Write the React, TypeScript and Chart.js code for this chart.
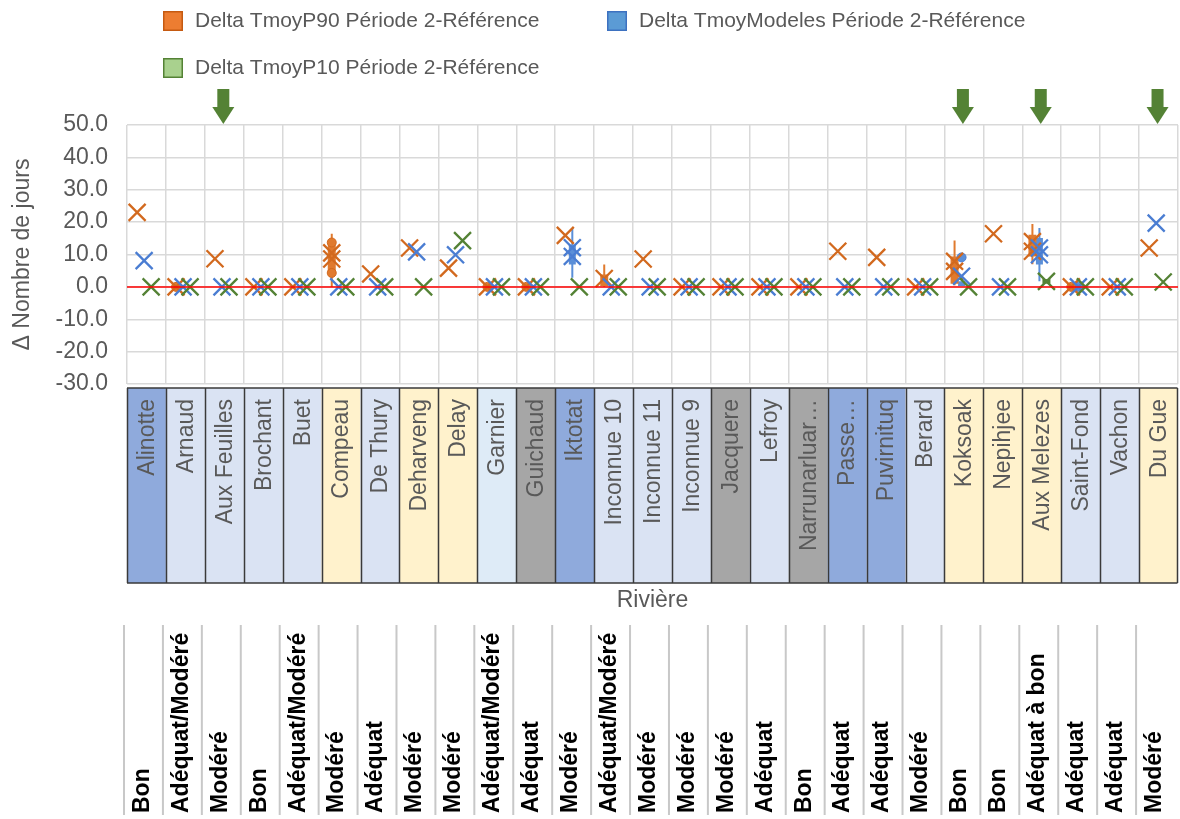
import { useEffect, useRef } from 'react';
import { Chart, registerables } from 'chart.js';

Chart.register(...registerables);

const FONT = "'Liberation Sans', Arial, sans-serif";
const TXT = '#595959';

// ---------- data ----------
const rivers = ['Alinotte', 'Arnaud', 'Aux Feuilles', 'Brochant', 'Buet', 'Compeau', 'De Thury', 'Deharveng', 'Delay', 'Garnier', 'Guichaud', 'Iktotat', 'Inconnue 10', 'Inconnue 11', 'Inconnue 9', 'Jacquere', 'Lefroy', 'Narrunarluar…', 'Passe…', 'Puvirnituq', 'Berard', 'Koksoak', 'Nepihjee', 'Aux Melezes', 'Saint-Fond', 'Vachon', 'Du Gue'];
const riverGroups = ['dark', 'light', 'light', 'light', 'light', 'yellow', 'light', 'yellow', 'yellow', 'pale', 'gray', 'dark', 'light', 'light', 'light', 'gray', 'light', 'gray', 'dark', 'dark', 'light', 'yellow', 'yellow', 'yellow', 'light', 'light', 'yellow'];
const status = ['Bon', 'Adéquat/Modéré', 'Modéré', 'Bon', 'Adéquat/Modéré', 'Modéré', 'Adéquat', 'Modéré', 'Modéré', 'Adéquat/Modéré', 'Adéquat', 'Modéré', 'Adéquat/Modéré', 'Modéré', 'Modéré', 'Modéré', 'Adéquat', 'Bon', 'Adéquat', 'Adéquat', 'Modéré', 'Bon', 'Bon', 'Adéquat à bon', 'Adéquat', 'Adéquat', 'Modéré'];
const arrowRivers = [2, 21, 23, 26];

const seriesNames = ['Delta TmoyP90 Période 2-Référence', 'Delta TmoyModeles Période 2-Référence', 'Delta TmoyP10 Période 2-Référence'];

const p90 = [23, 0, 8.7, 0, 0, 8.6, 4, 12, 5.8, 0, 0, 15.9, 2.6, 8.6, 0, 0, 0, 0, 11, 9.1, 0, 7.9, 16.4, 14, 0, 0, 12];
const mod = [8.1, 0, 0, 0, 0, 0, 0, 10.8, 9.9, 0, 0, 12.1, 0, 0, 0, 0, 0, 0, 0, 0, 0, 3.3, 0, 12, 0, 0, 19.7];
const p10 = [0, 0, 0, 0, 0, 0, 0, 0, 14.3, 0, 0, 0, 0, 0, 0, 0, 0, 0, 0, 0, 0, 0, 0, 1.7, 0, 0, 1.5];

const p90ExtraCats = [5, 21, 23];
const p90ExtraVals = [10.5, 4.8, 11];
const modExtraCats = [11, 23];
const modExtraVals = [9.4, 9.9];

const p90WhiskCats = [5, 12, 21, 23];
const p90WhiskLo = [0, 0, 0.5, 7];
const p90WhiskHi = [16.4, 6.9, 14.3, 19.4];
const p90BoxCats = [5, 12, 21, 23];
const p90BoxLo = [4.3, 0.3, 1.0, 9.4];
const p90BoxHi = [13.7, 3.8, 9.4, 16.1];

const modWhiskCats = [11, 23];
const modWhiskLo = [2.8, 1.7];
const modWhiskHi = [18.2, 18.2];
const modBoxCats = [11, 21, 23];
const modBoxLo = [6.9, 0.3, 6.9];
const modBoxHi = [13.0, 1.7, 15.1];

const p10BoxCats = [23];
const p10BoxLo = [1.0];
const p10BoxHi = [2.4];

const p90DotCats = [1, 5, 5, 9, 10, 24];
const p90DotVals = [0, 13.7, 4.3, 0, 0, 0];
const modDotCats = [21, 24];
const modDotVals = [9.1, 0];

const yTicks = [-30, -20, -10, 0, 10, 20, 30, 40, 50];

// ---------- styles ----------
const OFF = [-0.24, -0.06, 0.12];
const markerColors = ['#d2691e', '#4a7dd2', '#548235'];
const boxColors = ['#e07a2e', '#5b8fd8', '#548235'];
const legendFill = ['#ed7d31', '#5b9bd5', '#a9d18e'];
const legendBorder = ['#c55a11', '#3d71c0', '#548235'];
const cellColors: Record<string, string> = {
  dark: '#8faadc',
  light: '#dae3f3',
  pale: '#deebf7',
  yellow: '#fff2cc',
  gray: '#a6a6a6',
};

const pts = (vals: number[], off: number) => vals.map((v, i) => ({ x: i + off, y: v }));
const pairPts = (cats: number[], vals: number[], off: number) => cats.map((c, k) => ({ x: c + off, y: vals[k] }));
const segs = (cats: number[], lo: number[], hi: number[], off: number) =>
  cats.flatMap((c, k) => [{ x: c + off, y: lo[k] }, { x: c + off, y: hi[k] }, { x: c + off, y: null as any }]);

const xMarks = (label: string, data: any[], s: number, order: number) => ({
  type: 'scatter' as const,
  label,
  data,
  pointStyle: 'crossRot',
  pointRadius: 12,
  pointBorderWidth: 2.3,
  borderColor: markerColors[s],
  pointBorderColor: markerColors[s],
  backgroundColor: markerColors[s],
  order,
});
const segLine = (label: string, data: any[], color: string, width: number, order: number) => ({
  type: 'scatter' as const,
  label,
  data,
  showLine: true,
  spanGaps: false,
  pointRadius: 0,
  borderColor: color,
  borderWidth: width,
  borderCapStyle: 'butt',
  order,
});
const dots = (label: string, data: any[], s: number, order: number) => ({
  type: 'scatter' as const,
  label,
  data,
  pointStyle: 'circle',
  pointRadius: 4.5,
  pointBorderWidth: 1,
  pointBackgroundColor: boxColors[s],
  pointBorderColor: markerColors[s],
  order,
});

const decor = {
  id: 'decor',
  afterDraw(chart: any) {
    const { ctx, chartArea, scales } = chart;
    const x = scales.x;
    ctx.save();

    // legend
    const legendPos = [
      [163, 11],
      [607, 11],
      [163, 58],
    ];
    seriesNames.forEach((name, s) => {
      const [lx, ly] = legendPos[s];
      ctx.fillStyle = legendFill[s];
      ctx.fillRect(lx, ly, 20, 20);
      ctx.strokeStyle = legendBorder[s];
      ctx.lineWidth = 1.5;
      ctx.strokeRect(lx + 0.75, ly + 0.75, 18.5, 18.5);
      ctx.fillStyle = TXT;
      ctx.font = `21px ${FONT}`;
      ctx.textAlign = 'left';
      ctx.textBaseline = 'middle';
      ctx.fillText(name, lx + 32, ly + 10);
    });

    // arrows
    ctx.fillStyle = '#548235';
    arrowRivers.forEach((i) => {
      const cx = x.getPixelForValue(i) - 1;
      ctx.fillRect(cx - 6, 89, 12, 19);
      ctx.beginPath();
      ctx.moveTo(cx - 11, 107);
      ctx.lineTo(cx + 11, 107);
      ctx.lineTo(cx, 124);
      ctx.closePath();
      ctx.fill();
    });

    // category cells
    const top = chartArea.bottom + 4;
    const bot = chartArea.bottom + 199;
    rivers.forEach((r, i) => {
      const l = x.getPixelForValue(i - 0.5);
      const rr = x.getPixelForValue(i + 0.5);
      ctx.fillStyle = cellColors[riverGroups[i]];
      ctx.fillRect(l, top, rr - l, bot - top);
    });
    ctx.strokeStyle = '#3a3a3a';
    ctx.lineWidth = 1.5;
    ctx.beginPath();
    rivers.forEach((r, i) => {
      const l = Math.round(x.getPixelForValue(i - 0.5)) + 0.5;
      ctx.moveTo(l, top);
      ctx.lineTo(l, bot);
    });
    const rEnd = Math.round(x.getPixelForValue(rivers.length - 0.5)) - 0.5;
    ctx.moveTo(rEnd, top);
    ctx.lineTo(rEnd, bot);
    ctx.moveTo(x.getPixelForValue(-0.5), top);
    ctx.lineTo(rEnd, top);
    ctx.moveTo(x.getPixelForValue(-0.5), bot);
    ctx.lineTo(rEnd, bot);
    ctx.stroke();

    ctx.fillStyle = TXT;
    ctx.font = `23px ${FONT}`;
    ctx.textBaseline = 'middle';
    ctx.textAlign = 'right';
    rivers.forEach((r, i) => {
      const cx = x.getPixelForValue(i);
      ctx.save();
      ctx.translate(cx + 1, top + 11);
      ctx.rotate(-Math.PI / 2);
      ctx.fillText(r, 0, 0);
      ctx.restore();
    });

    // axis title
    ctx.textAlign = 'center';
    ctx.fillText('Rivière', (chartArea.left + chartArea.right) / 2, bot + 18);

    // status table
    ctx.strokeStyle = '#c8c8c8';
    ctx.lineWidth = 2;
    ctx.beginPath();
    rivers.forEach((r, i) => {
      const l = x.getPixelForValue(i - 0.5) - 3;
      ctx.moveTo(l, 625);
      ctx.lineTo(l, 815);
    });
    ctx.stroke();
    ctx.fillStyle = '#000000';
    ctx.font = `bold 23px ${FONT}`;
    ctx.textAlign = 'left';
    status.forEach((s, i) => {
      const cx = x.getPixelForValue(i) - 4;
      ctx.save();
      ctx.translate(cx, 813);
      ctx.rotate(-Math.PI / 2);
      ctx.fillText(s, 0, 0);
      ctx.restore();
    });

    ctx.restore();
  },
};

export default function App() {
  const ref = useRef<HTMLCanvasElement>(null);

  useEffect(() => {
    document.body.style.margin = '0';
    document.body.style.overflow = 'hidden';
    const canvas = ref.current;
    if (!canvas) return;
    const chart = new Chart(canvas, {
      type: 'scatter',
      data: {
        datasets: [
          {
            type: 'scatter',
            label: 'zero',
            data: [{ x: -0.5, y: 0 }, { x: rivers.length - 0.5, y: 0 }],
            showLine: true,
            pointRadius: 0,
            borderColor: '#ff0000',
            borderWidth: 1.5,
            order: 0,
          } as any,
          xMarks(seriesNames[0], pts(p90, OFF[0]), 0, 3),
          xMarks(seriesNames[0] + ' (2)', pairPts(p90ExtraCats, p90ExtraVals, OFF[0]), 0, 3),
          xMarks(seriesNames[1], pts(mod, OFF[1]), 1, 2),
          xMarks(seriesNames[1] + ' (2)', pairPts(modExtraCats, modExtraVals, OFF[1]), 1, 2),
          xMarks(seriesNames[2], pts(p10, OFF[2]), 2, 1),
          dots('p90 pts', pairPts(p90DotCats, p90DotVals, OFF[0]), 0, 4),
          dots('mod pts', pairPts(modDotCats, modDotVals, OFF[1]), 1, 4),
          segLine('p90 whisk', segs(p90WhiskCats, p90WhiskLo, p90WhiskHi, OFF[0]), boxColors[0], 2, 6),
          segLine('p90 box', segs(p90BoxCats, p90BoxLo, p90BoxHi, OFF[0]), boxColors[0], 8, 5),
          segLine('mod whisk', segs(modWhiskCats, modWhiskLo, modWhiskHi, OFF[1]), boxColors[1], 2, 6),
          segLine('mod box', segs(modBoxCats, modBoxLo, modBoxHi, OFF[1]), boxColors[1], 7, 5),
          segLine('p10 box', segs(p10BoxCats, p10BoxLo, p10BoxHi, OFF[2]), boxColors[2], 8, 5),
        ] as any,
      },
      options: {
        animation: false,
        responsive: false,
        maintainAspectRatio: false,
        events: [],
        layout: { autoPadding: false, padding: { left: 5, right: 2, top: 125, bottom: 435 } },
        plugins: { legend: { display: false }, tooltip: { enabled: false } },
        scales: {
          x: {
            type: 'linear',
            min: -0.5,
            max: rivers.length - 0.5,
            afterBuildTicks: (s: any) => {
              s.ticks = [-0.5, ...rivers.map((r, i) => i + 0.5)].map((v) => ({ value: v }));
            },
            ticks: { display: false },
            grid: { color: '#d9d9d9', lineWidth: 1.5, drawTicks: false },
            border: { display: false },
          },
          y: {
            min: -30,
            max: 50,
            afterBuildTicks: (s: any) => {
              s.ticks = yTicks.map((v) => ({ value: v }));
            },
            afterFit: (s: any) => {
              s.width = 122;
            },
            ticks: {
              color: TXT,
              font: { family: FONT, size: 23 },
              padding: 19,
              callback: (v: any) => Number(v).toFixed(1),
            },
            grid: { color: '#d9d9d9', lineWidth: 1.5, drawTicks: false },
            border: { display: false },
            title: {
              display: true,
              text: 'Δ Nombre de jours',
              color: TXT,
              font: { family: FONT, size: 23 },
            },
          },
        },
      } as any,
      plugins: [decor],
    });
    return () => chart.destroy();
  }, []);

  return (
    <div style={{ position: 'absolute', left: 0, top: 0, width: 1180, height: 819, overflow: 'hidden' }}>
      <canvas ref={ref} width={1180} height={819} style={{ display: 'block', width: 1180, height: 819 }} />
    </div>
  );
}
